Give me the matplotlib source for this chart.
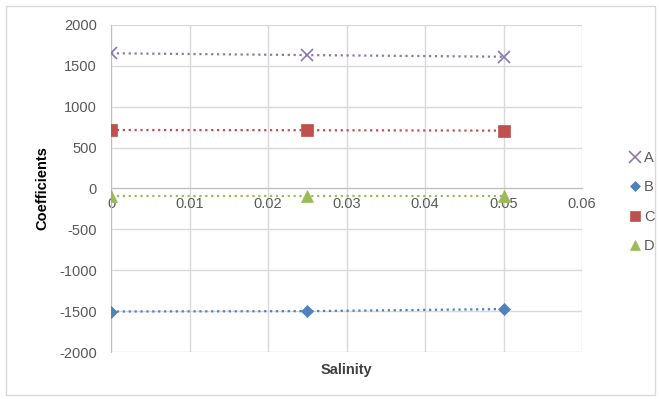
import matplotlib.pyplot as plt
from matplotlib.patches import Rectangle
from matplotlib.lines import Line2D

# --- données ---
salinity = [0, 0.025, 0.05]
coef_a = [1654, 1632, 1612]
coef_b = [-1505, -1500, -1475]
coef_c = [716, 713, 708]
coef_d = [-95, -95, -95]

series = [
    ('A', coef_a, '#8C78B0', 'x', 9),
    ('B', coef_b, '#4F81BD', 'D', 6),
    ('C', coef_c, '#C0504D', 's', 8),
    ('D', coef_d, '#9BBB59', '^', 8),
]

plt.rcParams['font.family'] = ['Liberation Sans', 'DejaVu Sans']
plt.rcParams['axes.unicode_minus'] = False

fig = plt.figure(figsize=(6.59, 3.99), dpi=100)
ax = fig.add_axes([111 / 659, 1 - 352 / 399, (582 - 111) / 659, (352 - 25) / 399])

# cadre du graphique (zone de graphique Excel)
fig.patches.append(Rectangle((6 / 659, 4 / 399), 649 / 659, 389 / 399,
                             transform=fig.transFigure, fill=False,
                             edgecolor='#d9d9d9', linewidth=1))

handles = []
for name, vals, col, mk, ms in series:
    mew = 1.2 if mk == 'x' else 0.5
    ax.plot(salinity, vals, linestyle=':', color=col, linewidth=1.6,
            marker=mk, markersize=ms, markeredgewidth=mew,
            markeredgecolor=col, markerfacecolor=col, zorder=3)
    # légende : marqueur seul, comme dans Excel
    handles.append(Line2D([], [], linestyle='none', marker=mk, markersize=ms - 1,
                          markeredgewidth=mew, color=col, label=name))

ax.set_xlim(0, 0.06)
ax.set_ylim(-2000, 2000)
ax.set_xticks([0, 0.01, 0.02, 0.03, 0.04, 0.05, 0.06])
ax.set_xticklabels(['0', '0.01', '0.02', '0.03', '0.04', '0.05', '0.06'])
ax.set_yticks(range(-2000, 2001, 500))

ax.grid(True, color='#d9d9d9', linewidth=1)
ax.set_axisbelow(True)

ax.spines['bottom'].set_position(('data', 0))
ax.spines['bottom'].set_color('#bfbfbf')
ax.spines['left'].set_color('#bfbfbf')
ax.spines['top'].set_visible(False)
ax.spines['right'].set_visible(False)

ax.tick_params(length=0, labelsize=10.5, labelcolor='#595959')
ax.tick_params(axis='x', pad=6)
ax.tick_params(axis='y', pad=10)

ax.set_xlabel('Salinity', fontsize=10.5, fontweight='bold', color='#404040')
ax.xaxis.set_label_coords(0.5, -0.035)
ax.set_ylabel('Coefficients', fontsize=10.5, fontweight='bold', color='#000000')
ax.yaxis.set_label_coords(-0.13, 0.5)

fig.legend(handles=handles, loc='center left', bbox_to_anchor=(615 / 659, 1 - 202 / 399),
           frameon=False, fontsize=10.5, labelcolor='#595959',
           handlelength=1.0, handletextpad=0.1, labelspacing=1.05)

plt.savefig('out.png', dpi=100)
